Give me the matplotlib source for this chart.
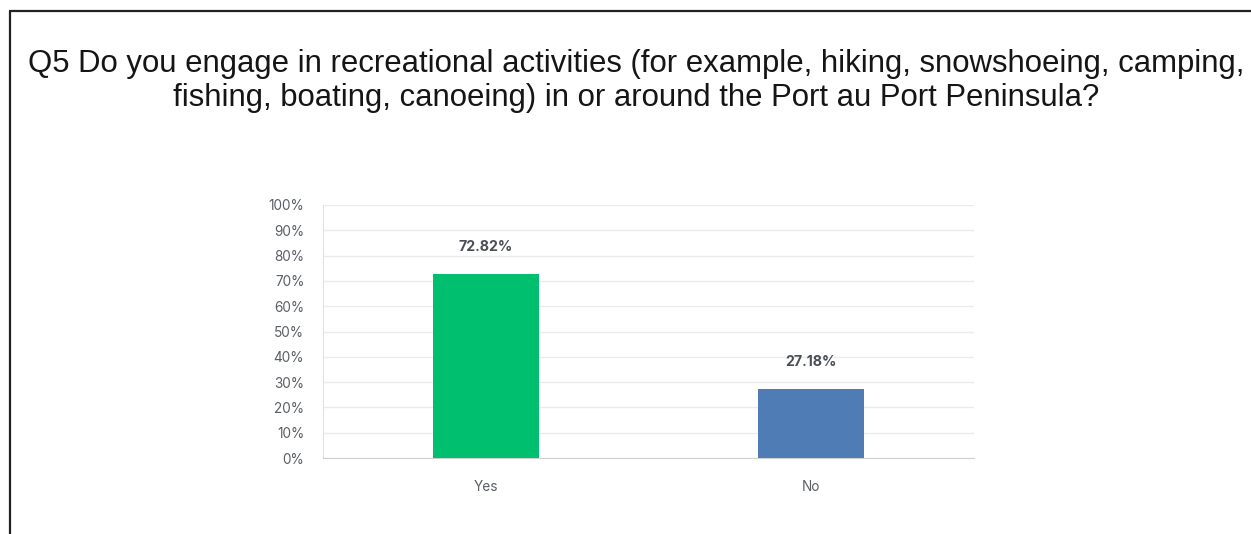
import matplotlib.pyplot as plt
from matplotlib.lines import Line2D

# survey results
categories = ['Yes', 'No']
shares = [72.82, 27.18]
bar_colors = ['#00bf6f', '#507cb6']
y_ticks = [0, 10, 20, 30, 40, 50, 60, 70, 80, 90, 100]
title = ('Q5 Do you engage in recreational activities (for example, hiking, snowshoeing, camping,\n'
         'fishing, boating, canoeing) in or around the Port au Port Peninsula?')

W, H = 1251, 534
fig = plt.figure(figsize=(W / 100, H / 100), dpi=100)
fig.patch.set_facecolor('white')

# frame around the panel (left and top edges only visible)
fig.add_artist(Line2D([9.5 / W, 9.5 / W], [0, 1 - 10.5 / H], transform=fig.transFigure,
                      color='#222222', lw=1.6, solid_capstyle='butt'))
fig.add_artist(Line2D([8.7 / W, 1], [1 - 10.5 / H, 1 - 10.5 / H], transform=fig.transFigure,
                      color='#222222', lw=1.6, solid_capstyle='butt'))

fig.text(636 / W, 1 - 81 / H, title, ha='center', va='center', fontsize=22.4,
         family='Liberation Sans', color='#151515', linespacing=1.15)

left, right, top, bottom = 323, 974, 205, 458
ax = fig.add_axes([left / W, 1 - bottom / H, (right - left) / W, (bottom - top) / H])

x = range(len(categories))
ax.bar(x, shares, width=0.326, color=bar_colors, zorder=3)
for xi, v in zip(x, shares):
    ax.annotate(f'{v:.2f}%', (xi, v), xytext=(0, 19.5), textcoords='offset points',
                ha='center', va='center', fontsize=10.2, fontweight='bold',
                family='Inter', color='#4a4f57')

ax.set_xlim(-0.5, 1.5)
ax.set_ylim(0, 100)
ax.set_yticks(y_ticks)
ax.set_yticklabels([f'{t}%' for t in y_ticks])
ax.set_xticks(list(x))
ax.set_xticklabels(categories)
ax.grid(axis='y', color='#ebebeb', lw=1, zorder=0)
ax.tick_params(length=0, labelsize=9.8, labelcolor='#5a5f66', pad=0)
ax.tick_params(axis='y', pad=13.5)
ax.tick_params(axis='x', pad=15.5)
for lbl in ax.get_xticklabels() + ax.get_yticklabels():
    lbl.set_family('Inter')
for s in ['top', 'right']:
    ax.spines[s].set_visible(False)
ax.spines['left'].set_color('#e0e0e0')
ax.spines['bottom'].set_color('#cfcfcf')

fig.savefig('out.png', dpi=100)
